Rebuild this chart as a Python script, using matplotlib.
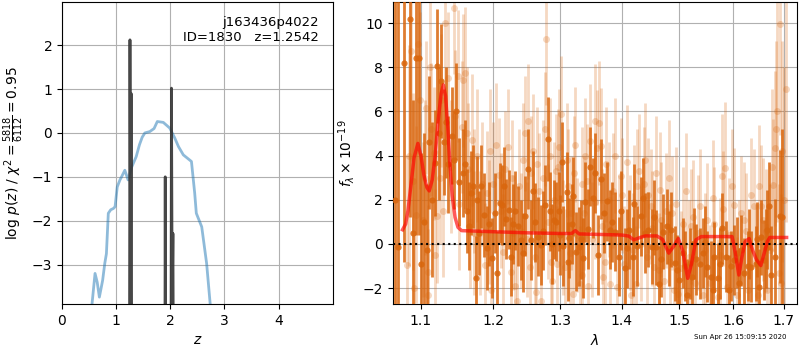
import matplotlib
matplotlib.use("Agg")
import matplotlib.pyplot as plt
import matplotlib.ticker as mticker
import numpy as np

# ---- left panel: redshift fit ----
z_chi = [0.55, 0.61, 0.65, 0.69, 0.75, 0.79, 0.82, 0.855, 0.90, 0.95, 0.98, 1.02,
         1.07, 1.10, 1.16, 1.22, 1.29, 1.37, 1.43, 1.48, 1.53, 1.62, 1.70, 1.76,
         1.87, 1.99, 2.08, 2.15, 2.24, 2.39, 2.45, 2.48, 2.58, 2.67, 2.74]
logp_chi = [-3.95, -3.2, -3.4, -3.74, -3.36, -2.97, -2.75, -1.83, -1.75, -1.72, -1.68, -1.23,
            -1.07, -1.0, -0.85, -1.07, -0.77, -0.54, -0.27, -0.1, 0.0, 0.03, 0.1, 0.26,
            0.24, 0.11, -0.11, -0.31, -0.5, -0.65, -1.37, -1.83, -2.14, -2.97, -3.95]

z_pz = [1.20, 1.245, 1.255, 1.268, 1.276, 1.285, 1.30,
        1.88, 1.899, 1.906, 1.913, 1.93,
        1.99, 2.012, 2.021, 2.035, 2.048, 2.058, 2.07, 2.10]
logp_pz = [-8, -6, 2.12, -4, 0.9, -6, -8,
           -8, -6, -1.0, -6, -8,
           -8, -6, 1.02, -4, -2.29, -6, -8, -8]

z_ticks = [0, 1, 2, 3, 4]
logp_ticks = [-3, -2, -1, 0, 1, 2]

# ---- right panel: spectrum (dark = good pixels, light = all pixels) ----
wave_d = [1.066, 1.0705, 1.0773, 1.0855, 1.090, 1.093, 1.0977, 1.100, 1.1077, 1.1113,
          1.119, 1.1217, 1.1263, 1.1308, 1.1362, 1.1417, 1.1476, 1.1521, 1.1566, 1.1603,
          1.1625, 1.168, 1.1716, 1.1757, 1.1788, 1.1825, 1.1861, 1.1906, 1.1974, 1.202,
          1.205, 1.209, 1.213, 1.218, 1.222, 1.226, 1.231, 1.236, 1.241, 1.247,
          1.251, 1.256, 1.261, 1.266, 1.270, 1.276, 1.281, 1.285, 1.290, 1.294,
          1.298, 1.303, 1.305, 1.310, 1.314, 1.321, 1.325, 1.330, 1.336, 1.344,
          1.348, 1.352, 1.361, 1.366, 1.375, 1.380, 1.388, 1.395, 1.405, 1.412,
          1.418, 1.425, 1.432, 1.439, 1.445, 1.451, 1.458, 1.464, 1.471, 1.478,
          1.485, 1.492, 1.500, 1.506, 1.513, 1.519, 1.527, 1.530, 1.537, 1.543,
          1.550, 1.558, 1.564, 1.571, 1.579, 1.586, 1.592, 1.601, 1.607, 1.612,
          1.621, 1.628, 1.634, 1.644, 1.651, 1.654, 1.660, 1.667, 1.671, 1.675,
          1.683, 1.692, 1.697,
          1.104, 1.115, 1.124, 1.133, 1.144, 1.165, 1.177, 1.193, 1.216, 1.228,
          1.244, 1.259, 1.273, 1.288, 1.300, 1.312, 1.318, 1.333, 1.340, 1.356,
          1.370, 1.384, 1.399, 1.408, 1.421, 1.436, 1.455, 1.467, 1.481, 1.496,
          1.510, 1.523, 1.546, 1.561, 1.575, 1.596, 1.616, 1.631, 1.647, 1.664]
flux_d = [2.0, -0.14, 8.2, 10.2, 0.5, 8.4, 8.4, -0.9, -0.3, 4.6,
          3.67, 8.06, 7.38, 4.6, 3.6, 4.9, 6.0, 2.8, 3.2, 3.6,
          1.5, 2.3, 2.6, -1.56, 0.5, 2.6, 1.3, -0.2, -0.65, 1.4,
          -1.33, 1.85, 1.77, 1.12, 1.55, -0.58, 1.5, 0.8, 0.18, 1.27,
          3.4, 0.18, 0.97, 0.33, -0.05, 1.77, 4.73, 1.47, 1.1, 1.01,
          1.47, 3.7, -0.1, 2.35, 0.26, 2.15, -0.35, -0.12, -0.65, 0.68,
          3.5, 2.08, -0.5, 2.94, 1.92, 0.64, 0.56, -0.58, -1.1, 0.64,
          -0.58, -0.1, 1.24, 0.49, 0.64, -0.12, -0.15, -1.8, 0.56, 0.79,
          0.64, -0.88, -1.64, -0.42, -2.3, -0.88, 0.03, -0.7, -0.9, -0.42,
          -1.03, -1.48, -0.6, -1.56, 0.71, -0.58, -2.09, -0.73, -0.4, -1.79,
          -1.33, -1.0, -1.03, -0.9, -1.94, 0.29, -0.73, 0.64, 1.73, -1.41,
          -0.58, 1.24, 1.2,
          1.0, 2.0, 5.0, 5.5, 3.8, 0.8, 2.0, 0.9, 2.6, 0.9,
          -0.4, 2.4, 0.6, 0.0, 0.4, -0.8, 0.9, 0.2, 1.9, 3.2,
          1.4, 1.0, 1.5, -0.2, 1.8, 2.1, 1.2, -0.7, -0.2, -1.2,
          -1.0, -1.5, 0.1, -2.1, -0.9, -1.0, -0.3, 0.0, 0.2, -0.2]
err_d = [12, 12, 9, 9, 6, 8, 8, 5, 3, 3,
         2.4, 2.6, 2.6, 2.4, 2.2, 2.2, 2.2, 2.0, 2.0, 2.0,
         1.9, 1.9, 1.9, 1.9, 1.9, 1.9, 1.9, 1.9, 1.8, 1.8,
         1.9, 1.8, 1.8, 1.8, 1.8, 1.8, 1.8, 1.8, 1.8, 1.8,
         1.8, 1.8, 1.8, 1.8, 1.8, 1.8, 1.9, 1.8, 1.8, 1.8,
         1.8, 1.8, 1.8, 1.8, 1.8, 1.8, 1.8, 1.8, 1.8, 1.8,
         1.8, 1.8, 1.8, 1.8, 1.8, 1.8, 1.8, 1.8, 1.8, 1.8,
         1.8, 1.8, 1.8, 1.8, 1.7, 1.7, 1.7, 1.7, 1.7, 1.7,
         1.7, 1.7, 1.6, 1.6, 1.6, 1.6, 1.6, 1.6, 1.6, 1.6,
         1.6, 1.6, 1.6, 1.6, 1.6, 1.6, 1.6, 1.6, 1.6, 1.6,
         1.6, 1.6, 1.6, 1.7, 1.7, 1.7, 1.8, 1.8, 2.0, 2.2,
         2.6, 3.0, 4.0,
         4.0, 3.5, 3.0, 2.5, 2.2, 2.0, 2.0, 1.9, 1.8, 1.8,
         1.8, 1.8, 1.8, 1.8, 1.8, 1.8, 1.8, 1.8, 1.8, 1.8,
         1.8, 1.8, 1.8, 1.8, 1.8, 1.8, 1.7, 1.7, 1.7, 1.6,
         1.6, 1.6, 1.6, 1.6, 1.6, 1.6, 1.6, 1.6, 1.7, 1.8]

wave_l = [1.082, 1.087, 1.089, 1.093, 1.096, 1.103, 1.107, 1.109, 1.110, 1.113,
          1.117, 1.122, 1.125, 1.127, 1.132, 1.145, 1.146, 1.150, 1.155, 1.157,
          1.160, 1.164, 1.170, 1.172, 1.173, 1.184, 1.188, 1.191, 1.195, 1.197,
          1.200, 1.208, 1.214, 1.217, 1.225, 1.227, 1.231, 1.235, 1.237, 1.240,
          1.246, 1.251, 1.254, 1.256, 1.263, 1.265, 1.268, 1.271, 1.276, 1.278,
          1.281, 1.288, 1.293, 1.295, 1.296, 1.301, 1.307, 1.312, 1.317, 1.320,
          1.324, 1.331, 1.334, 1.335, 1.337, 1.342, 1.344, 1.347, 1.355, 1.356,
          1.359, 1.362, 1.365, 1.369, 1.374, 1.381, 1.385, 1.391, 1.398, 1.404,
          1.414, 1.416, 1.420, 1.424, 1.429, 1.438, 1.443, 1.444, 1.449, 1.455,
          1.466, 1.468, 1.472, 1.481, 1.487, 1.490, 1.498, 1.507, 1.521, 1.525,
          1.529, 1.537, 1.543, 1.551, 1.557, 1.564, 1.571, 1.579, 1.581, 1.584,
          1.589, 1.602, 1.608, 1.616, 1.621, 1.628, 1.640, 1.648, 1.651, 1.655,
          1.664, 1.667, 1.679, 1.682, 1.684, 1.690, 1.692, 1.694, 1.696, 1.705,
          1.084, 1.091, 1.099, 1.105, 1.112, 1.119, 1.130, 1.137, 1.141, 1.152,
          1.162, 1.167, 1.177, 1.181, 1.193, 1.203, 1.211, 1.221, 1.229, 1.243,
          1.249, 1.259, 1.261, 1.273, 1.284, 1.286, 1.291, 1.299, 1.304, 1.310,
          1.315, 1.322, 1.327, 1.339, 1.350, 1.367, 1.372, 1.378, 1.388, 1.395,
          1.401, 1.409, 1.418, 1.426, 1.433, 1.440, 1.452, 1.459, 1.463, 1.476,
          1.484, 1.494, 1.503, 1.512, 1.517, 1.533, 1.547, 1.561, 1.575, 1.593,
          1.598, 1.611, 1.625, 1.635, 1.644, 1.659, 1.672, 1.676, 1.687, 1.700]
flux_l = [-0.97, 8.74, 2.83, 1.32, 9.05, 1.1, 6.17, -1.26, -2.32, 5.18,
          4.1, 1.24, 3.0, 6.5, 10.0, 10.7, 5.8, 7.6, 5.3, 7.4,
          7.75, 3.4, 4.7, 2.4, 0.5, 2.7, -0.96, 2.3, 4.2, -2.1,
          2.7, 3.1, -0.36, 3.4, -1.26, 3.0, -1.9, -2.6, 2.6, 0.6,
          5.0, 5.56, -1.03, 3.2, -2.2, 3.6, 2.4, -2.6, 5.2, 9.3,
          1.0, -1.7, 3.3, -0.9, 3.5, 5.9, -1.03, 2.6, 1.4, -2.26,
          4.5, -1.8, 2.7, -1.4, 1.4, 2.85, -1.9, 4.65, 5.55, 1.9,
          4.35, 5.48, 4.45, -1.5, 3.6, -1.8, 2.4, -1.95, 3.09, -0.9,
          0.53, -2.3, 1.9, -1.8, 3.3, 2.7, -0.6, 2.2, 1.7, -1.03,
          2.45, 1.1, -1.7, 3.0, 1.4, -2.1, -2.26, 0.9, 0.8, 1.2,
          -1.75, 1.71, -2.3, 1.06, -1.75, 0.9, -2.4, 3.06, 1.6, 3.42,
          -1.95, 1.76, -2.3, 1.4, 1.1, -2.1, 1.7, -2.3, 2.6, 1.7,
          0.6, -2.1, 2.67, 4.33, 5.2, -1.3, 9.95, -1.75, 4.2, 7.0,
          4.0, -2.0, 6.5, 3.0, 8.0, -0.5, 1.5, 7.5, 3.5, 1.8,
          5.0, 1.0, 4.0, 0.5, 1.0, 4.5, 1.5, 4.4, 0.5, 3.8,
          0.2, 4.2, -0.6, 3.0, 4.0, -0.8, 2.0, 4.4, 0.3, 3.8,
          -0.4, 3.2, 0.4, 4.0, 0.2, 0.8, -0.8, 2.0, 4.0, 0.5,
          2.2, 3.7, -0.3, 2.6, 0.0, 3.8, 0.7, 3.2, -1.2, 1.5,
          -0.8, 1.8, -1.1, 2.4, -0.6, 0.5, -0.3, 2.1, -0.5, 0.4,
          2.6, -0.6, 0.6, 2.2, -0.8, 1.1, -0.3, 3.5, 6.0, 2.0]
err_l = [5, 5, 4, 4, 5, 3.5, 3, 3, 3, 3,
         3, 3, 3, 3, 3, 3, 3, 3, 3, 3,
         3, 3, 3, 2.8, 2.8, 2.8, 2.8, 2.8, 2.8, 2.8,
         2.8, 2.6, 2.6, 2.6, 2.6, 2.6, 2.6, 2.6, 2.6, 2.6,
         2.6, 2.6, 2.6, 2.6, 2.6, 2.6, 2.6, 2.6, 2.6, 3.0,
         2.6, 2.6, 2.6, 2.6, 2.6, 2.6, 2.6, 2.6, 2.6, 2.6,
         2.6, 2.6, 2.6, 2.6, 2.6, 2.6, 2.6, 2.6, 2.6, 2.6,
         2.6, 2.8, 2.6, 2.6, 2.6, 2.6, 2.6, 2.6, 2.6, 2.6,
         2.6, 2.6, 2.6, 2.6, 2.6, 2.6, 2.6, 2.6, 2.6, 2.6,
         2.6, 2.6, 2.6, 2.6, 2.6, 2.6, 2.6, 2.6, 2.6, 2.6,
         2.6, 2.6, 2.6, 2.6, 2.6, 2.6, 2.6, 2.8, 2.6, 3.0,
         2.6, 2.6, 2.6, 2.6, 2.6, 2.6, 2.6, 2.6, 2.8, 2.8,
         2.8, 3.0, 3.0, 3.5, 4.0, 4.0, 5.0, 4.0, 5.0, 6.0,
         5, 5, 4, 3.5, 3.5, 3, 3, 3, 3, 3,
         3, 3, 3, 2.8, 2.8, 2.8, 2.6, 2.6, 2.6, 2.6,
         2.6, 2.6, 2.6, 2.6, 2.6, 2.6, 2.6, 2.6, 2.6, 2.6,
         2.6, 2.6, 2.6, 2.6, 2.6, 2.6, 2.6, 2.6, 2.6, 2.6,
         2.6, 2.6, 2.6, 2.6, 2.6, 2.6, 2.6, 2.6, 2.6, 2.6,
         2.6, 2.6, 2.6, 2.6, 2.6, 2.6, 2.6, 2.6, 2.6, 2.6,
         2.6, 2.6, 2.6, 2.6, 2.6, 2.8, 3.0, 3.5, 5.0, 6.0]

wave_m = [1.076, 1.080, 1.083, 1.087, 1.091, 1.096, 1.100, 1.104, 1.108, 1.111,
          1.115, 1.119, 1.123, 1.127, 1.130, 1.133, 1.136, 1.139, 1.142, 1.146,
          1.150, 1.155, 1.20, 1.25, 1.30, 1.318, 1.324, 1.330, 1.36, 1.40,
          1.412, 1.420, 1.430, 1.440, 1.460, 1.470, 1.481, 1.490, 1.498, 1.506,
          1.515, 1.522, 1.530, 1.540, 1.598, 1.604, 1.611, 1.617, 1.623, 1.631,
          1.638, 1.645, 1.654, 1.661, 1.667, 1.672, 1.706]
flux_m = [0.64, 0.9, 1.5, 2.7, 3.9, 4.55, 4.0, 3.1, 2.55, 2.4,
          2.9, 4.0, 5.6, 6.8, 7.2, 6.7, 5.3, 3.6, 2.2, 1.2,
          0.75, 0.6, 0.55, 0.5, 0.47, 0.47, 0.6, 0.45, 0.43, 0.4,
          0.35, 0.18, 0.28, 0.36, 0.36, 0.2, -0.42, -0.1, 0.24, -0.3,
          -1.56, -0.9, 0.18, 0.33, 0.33, -0.4, -1.41, -0.6, 0.1, 0.24,
          -0.3, -0.7, -0.98, -0.4, 0.1, 0.29, 0.29]

wave_ticks = [1.1, 1.2, 1.3, 1.4, 1.5, 1.6, 1.7]
flux_ticks = [-2, 0, 2, 4, 6, 8, 10]

grism_color = "#d9660d"

fig = plt.figure(figsize=(8, 3.5), dpi=100)
ax1 = fig.add_axes([0.0775, 0.131, 0.3385, 0.863])
ax2 = fig.add_axes([0.491, 0.131, 0.505, 0.863])

# left: log p(z)
ax1.plot(z_chi, logp_chi, color="tab:blue", alpha=0.5, lw=2)
ax1.plot(z_pz, logp_pz, color="0.2", alpha=0.9, lw=2)
ax1.set_xlim(0, 5)
ax1.set_ylim(-3.9, 2.98)
ax1.set_xticks(z_ticks)
ax1.set_yticks(logp_ticks)
ax1.grid(True)
ax1.set_xlabel(r"$z$")
ax1.set_ylabel(r"log $p(z)$ / $\chi^2=\frac{5818}{6112}=0.95$")
ax1.text(0.95, 0.955, "j163436p4022\nID=1830   z=1.2542", ha="right", va="top",
         transform=ax1.transAxes, fontsize=9.5)

# right: spectrum
ax2.errorbar(wave_l, flux_l, yerr=err_l, fmt="o", color=grism_color, alpha=0.25,
             ms=5, elinewidth=2, mew=0, zorder=2)
ax2.errorbar(wave_d, flux_d, yerr=err_d, fmt="o", color=grism_color, alpha=0.85,
             ms=4.5, elinewidth=2, mew=0, zorder=3)
ax2.plot(wave_m, flux_m, color="red", alpha=0.65, lw=2.5, zorder=5)
ax2.axhline(0, color="k", ls=":", lw=1.5, zorder=6)

ax2.set_xscale("log")
ax2.set_xlim(1.0635, 1.727)
ax2.set_ylim(-2.73, 10.95)
ax2.set_xticks(wave_ticks)
ax2.xaxis.set_major_formatter(mticker.FormatStrFormatter("%.1f"))
ax2.xaxis.set_minor_locator(mticker.NullLocator())
ax2.set_yticks(flux_ticks)
ax2.grid(True)
ax2.set_xlabel(r"$\lambda$")
ax2.set_ylabel(r"$f_\lambda\times10^{-19}$")

fig.text(0.983, 0.03, "Sun Apr 26 15:09:15 2020", ha="right", va="bottom", fontsize=5)

fig.savefig("out.png", dpi=100)
